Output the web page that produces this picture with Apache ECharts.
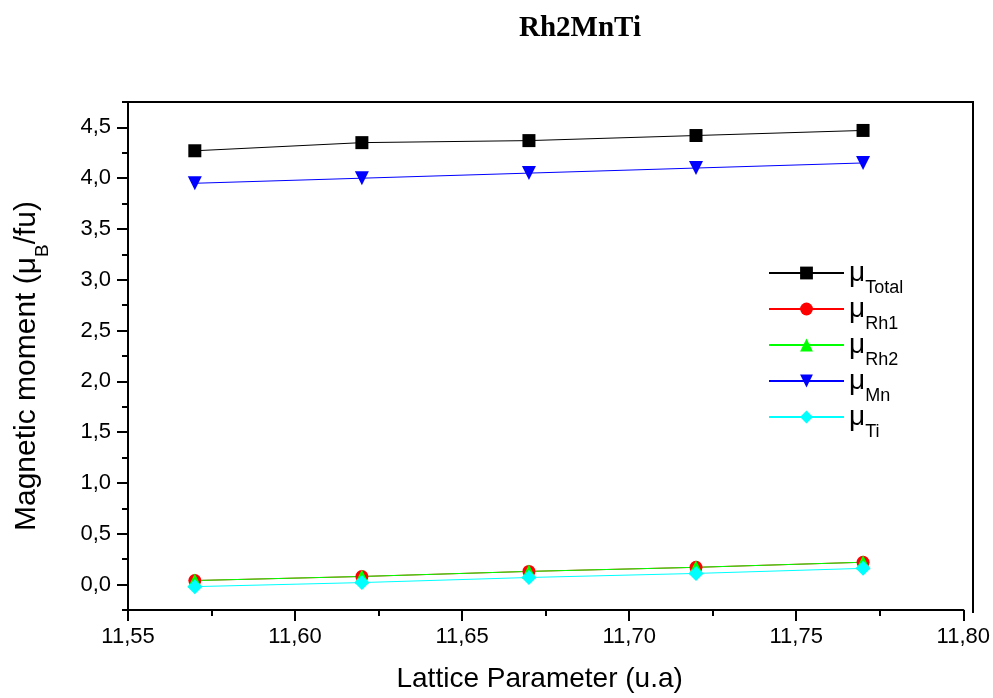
<!DOCTYPE html>
<html>
<head>
<meta charset="utf-8">
<script src="https://cdn.jsdelivr.net/npm/echarts@6/dist/echarts.min.js"></script>
<style>
  html, body { margin: 0; padding: 0; background: #fff; }
  #chart { width: 993px; height: 698px; }
</style>
</head>
<body>
<div id="chart"></div>
<script>
// Lattice parameter (u.a) sampled for Rh2MnTi
const latticeParams = [11.57, 11.62, 11.67, 11.72, 11.77];

// Magnetic moments (μB/fu)
const muTotal = [4.27, 4.35, 4.37, 4.42, 4.47];
const muRh1   = [0.04, 0.08, 0.13, 0.17, 0.22];
const muRh2   = [0.04, 0.08, 0.13, 0.17, 0.22];
const muMn    = [3.95, 4.00, 4.05, 4.10, 4.15];
const muTi    = [-0.02, 0.02, 0.07, 0.11, 0.16];

// Axis ticks
const xTicks = [11.55, 11.60, 11.65, 11.70, 11.75, 11.80];
const yTicks = [0.0, 0.5, 1.0, 1.5, 2.0, 2.5, 3.0, 3.5, 4.0, 4.5];

const FONT = 'Liberation Sans, Arial, sans-serif';
const comma = (v, d) => v.toFixed(d).replace('.', ',');

function pairs(ys) { return latticeParams.map((x, i) => [x, ys[i]]); }

const seriesDefs = [
  { name: 'Total', data: muTotal, color: '#000000', symbol: 'rect', size: 13, rotate: 0 },
  { name: 'Rh1',   data: muRh1,   color: '#ff0000', symbol: 'circle', size: 13, rotate: 0 },
  { name: 'Rh2',   data: muRh2,   color: '#00ff00', symbol: 'triangle', size: 14, rotate: 0 },
  { name: 'Mn',    data: muMn,    color: '#0000ff', symbol: 'triangle', size: 14, rotate: 180 },
  { name: 'Ti',    data: muTi,    color: '#00ffff', symbol: 'diamond', size: 15, rotate: 0 }
];

const chart = echarts.init(document.getElementById('chart'), null, { renderer: 'canvas' });

const option = {
  backgroundColor: '#ffffff',
  animation: false,
  title: {
    text: 'Rh2MnTi',
    left: 575,
    top: 9,
    textAlign: 'center',
    textStyle: { fontFamily: 'Liberation Serif, Times New Roman, serif', fontWeight: 'bold', fontSize: 29, color: '#000' }
  },
  grid: { left: 128, right: 28, top: 102, bottom: 85, containLabel: false },
  legend: {
    orient: 'vertical',
    left: 768,
    top: 259,
    padding: 0,
    itemWidth: 75,
    itemHeight: 16,
    itemGap: -2,
    data: seriesDefs.map(s => s.name),
    formatter: name => '{m|μ}{s|' + name + '}',
    textStyle: {
      fontFamily: FONT,
      color: '#000',
      rich: {
        m: { fontFamily: FONT, fontSize: 28, lineHeight: 28, verticalAlign: 'top', color: '#000' },
        s: { fontFamily: FONT, fontSize: 18, lineHeight: 18, verticalAlign: 'top', padding: [20, 0, 0, 0], color: '#000' }
      }
    }
  },
  xAxis: {
    type: 'value',
    min: xTicks[0],
    max: xTicks[xTicks.length - 1],
    interval: 0.05,
    name: 'Lattice Parameter (u.a)',
    nameLocation: 'middle',
    nameGap: 55,
    nameTextStyle: { fontFamily: FONT, fontSize: 28, lineHeight: 28, color: '#000', padding: [0, 12, 0, 0] },
    axisLine: { onZero: false, lineStyle: { color: '#000', width: 2 } },
    axisTick: { show: true, length: 11, lineStyle: { color: '#000', width: 2 } },
    minorTick: { show: true, splitNumber: 2, length: 6, lineStyle: { color: '#000', width: 2 } },
    axisLabel: {
      margin: 16,
      fontFamily: FONT, fontSize: 22, color: '#000',
      formatter: v => comma(v, 2)
    },
    splitLine: { show: false }
  },
  yAxis: [
    {
      // axis line and quarter-step minor ticks
      type: 'value',
      min: -0.25,
      max: 4.75,
      interval: 0.25,
      position: 'left',
      name: '{t|Magnetic moment (μ}{b|B}{t|/fu)}',
      nameLocation: 'middle',
      nameGap: 86,
      nameRotate: 90,
      nameTextStyle: {
        fontFamily: FONT, color: '#000',
        padding: [0, 20, 0, 0],
        rich: {
          t: { fontFamily: FONT, fontSize: 30, lineHeight: 30, verticalAlign: 'top', color: '#000' },
          b: { fontFamily: FONT, fontSize: 19, lineHeight: 19, verticalAlign: 'top', padding: [21, 0, 0, 0], color: '#000' }
        }
      },
      axisLine: { onZero: false, lineStyle: { color: '#000', width: 2 } },
      axisTick: { show: true, length: 6, lineStyle: { color: '#000', width: 2 } },
      axisLabel: { show: false },
      splitLine: { show: false }
    },
    {
      // major ticks with labels
      type: 'value',
      min: -0.25,
      max: 4.75,
      position: 'left',
      axisLine: { show: false },
      axisTick: { show: true, length: 11, customValues: yTicks, lineStyle: { color: '#000', width: 2 } },
      axisLabel: {
        show: true, customValues: yTicks, margin: 17,
        fontFamily: FONT, fontSize: 22, color: '#000',
        formatter: v => comma(v, 1)
      },
      splitLine: { show: false }
    }
  ],
  graphic: [
    {
      type: 'polyline',
      shape: { points: [[123, 102], [973, 102], [973, 613]] },
      style: { stroke: '#000', lineWidth: 2, fill: null },
      silent: true
    }
  ],
  series: seriesDefs.map(s => ({
    name: s.name,
    type: 'line',
    yAxisIndex: 0,
    data: pairs(s.data),
    symbol: s.symbol,
    symbolSize: s.size,
    symbolRotate: s.rotate,
    showAllSymbol: true,
    lineStyle: { color: s.color, width: 1 },
    itemStyle: { color: s.color, borderWidth: 0 },
    emphasis: { disabled: true }
  }))
};

chart.setOption(option);
</script>
</body>
</html>
